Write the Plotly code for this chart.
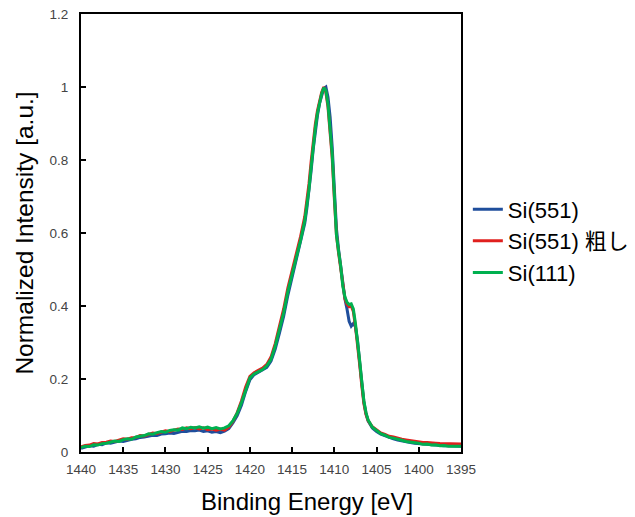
import plotly.graph_objects as go

# Binding energy grid (eV)
energy = [
    1440.0, 1439.5, 1439.0, 1438.5, 1438.0, 1437.5, 1437.0, 1436.5, 1436.0, 1435.5,
    1435.0, 1434.5, 1434.0, 1433.5, 1433.0, 1432.5, 1432.0, 1431.5, 1431.0, 1430.5,
    1430.0, 1429.5, 1429.0, 1428.5, 1428.0, 1427.5, 1427.0, 1426.5, 1426.0, 1425.5,
    1425.0, 1424.5, 1424.0, 1423.5, 1423.0, 1422.5, 1422.0, 1421.5, 1421.0, 1420.5,
    1420.0, 1419.5, 1419.0, 1418.5, 1418.0, 1417.5, 1417.0, 1416.5, 1416.0, 1415.5,
    1415.0, 1414.5, 1414.0, 1413.5,
    1413.25, 1413.0, 1412.75, 1412.5, 1412.25, 1412.0, 1411.75, 1411.5, 1411.25, 1411.0,
    1410.75, 1410.5, 1410.25, 1410.0, 1409.75, 1409.5, 1409.25, 1409.0, 1408.75, 1408.5,
    1408.25, 1408.0, 1407.75, 1407.5, 1407.25, 1407.0, 1406.75, 1406.5, 1406.25,
    1406.0, 1405.5, 1405.0, 1404.5, 1404.0, 1403.5, 1403.0, 1402.5, 1402.0, 1401.5,
    1401.0, 1400.5, 1400.0, 1399.5, 1399.0, 1398.5, 1398.0, 1397.5, 1397.0, 1396.5,
    1396.0, 1395.5, 1395.0,
]

si551 = [
    0.010, 0.014, 0.017, 0.016, 0.021, 0.020, 0.025, 0.024, 0.028, 0.030,
    0.029, 0.033, 0.035, 0.036, 0.040, 0.041, 0.044, 0.046, 0.045, 0.049,
    0.050, 0.052, 0.051, 0.055, 0.057, 0.056, 0.059, 0.058, 0.060, 0.056,
    0.058, 0.054, 0.056, 0.053, 0.057, 0.064, 0.080, 0.100, 0.128, 0.166,
    0.198, 0.212, 0.219, 0.224, 0.232, 0.249, 0.282, 0.326, 0.372, 0.430,
    0.480, 0.521, 0.572, 0.627,
    0.668, 0.712, 0.770, 0.830, 0.880, 0.922, 0.955, 0.980, 0.996, 1.000,
    0.972, 0.918, 0.835, 0.722, 0.612, 0.555, 0.510, 0.452, 0.420, 0.392,
    0.358, 0.345, 0.352, 0.343, 0.305, 0.246, 0.188, 0.137, 0.105,
    0.085, 0.066, 0.056, 0.049, 0.044, 0.039, 0.036, 0.033, 0.030, 0.028,
    0.026, 0.024, 0.023, 0.021, 0.020, 0.019, 0.018, 0.018, 0.017, 0.017,
    0.016, 0.016, 0.016,
]

si551_rough = [
    0.014, 0.018, 0.019, 0.023, 0.022, 0.026, 0.027, 0.030, 0.029, 0.033,
    0.036, 0.035, 0.039, 0.040, 0.045, 0.044, 0.048, 0.052, 0.051, 0.054,
    0.058, 0.056, 0.060, 0.063, 0.062, 0.066, 0.064, 0.067, 0.063, 0.066,
    0.061, 0.063, 0.060, 0.062, 0.060, 0.068, 0.084, 0.108, 0.140, 0.178,
    0.207, 0.217, 0.224, 0.230, 0.240, 0.260, 0.297, 0.342, 0.392, 0.450,
    0.497, 0.537, 0.590, 0.645,
    0.688, 0.735, 0.795, 0.850, 0.898, 0.935, 0.962, 0.985, 1.000, 0.985,
    0.945, 0.880, 0.805, 0.695, 0.595, 0.546, 0.505, 0.452, 0.420, 0.405,
    0.398, 0.400, 0.385, 0.345, 0.298, 0.240, 0.182, 0.133, 0.103,
    0.086, 0.069, 0.060, 0.052, 0.048, 0.043, 0.041, 0.037, 0.035, 0.033,
    0.031, 0.029, 0.028, 0.026, 0.026, 0.024, 0.024, 0.023, 0.023, 0.022,
    0.022, 0.022, 0.022,
]

si111 = [
    0.012, 0.016, 0.015, 0.020, 0.019, 0.023, 0.024, 0.027, 0.030, 0.029,
    0.034, 0.036, 0.035, 0.041, 0.043, 0.045, 0.050, 0.049, 0.053, 0.056,
    0.054, 0.059, 0.061, 0.060, 0.066, 0.064, 0.068, 0.066, 0.069, 0.065,
    0.068, 0.064, 0.067, 0.063, 0.066, 0.072, 0.086, 0.106, 0.135, 0.172,
    0.203, 0.214, 0.221, 0.226, 0.236, 0.254, 0.290, 0.334, 0.382, 0.440,
    0.488, 0.528, 0.580, 0.634,
    0.675, 0.720, 0.780, 0.838, 0.888, 0.928, 0.958, 0.982, 0.998, 0.990,
    0.952, 0.890, 0.815, 0.705, 0.595, 0.550, 0.510, 0.455, 0.425, 0.410,
    0.404, 0.406, 0.392, 0.352, 0.308, 0.250, 0.192, 0.140, 0.108,
    0.088, 0.068, 0.058, 0.050, 0.046, 0.040, 0.038, 0.034, 0.032, 0.029,
    0.028, 0.025, 0.024, 0.021, 0.022, 0.019, 0.020, 0.017, 0.018, 0.016,
    0.017, 0.016, 0.016,
]

series_names = ["Si(551)", "Si(551) 粗し", "Si(111)"]
series_colors = ["#1F4E9C", "#E0201E", "#00B04F"]
x_title = "Binding Energy [eV]"
y_title = "Normalized Intensity [a.u.]"

assert len(energy) == len(si551) == len(si551_rough) == len(si111)

FONT = "Liberation Sans, Arial, Noto Sans CJK JP, sans-serif"

fig = go.Figure()
for name, vals, col in zip(series_names, [si551, si551_rough, si111], series_colors):
    fig.add_trace(go.Scatter(x=energy, y=vals, mode="lines", name=name,
                             line=dict(color=col, width=3)))

# page body adds an 8px offset, so the figure is sized to fit the 635x517 window
fig.update_layout(
    width=627, height=509,
    margin=dict(l=73, r=174, t=6, b=65, autoexpand=False),
    paper_bgcolor="white", plot_bgcolor="white",
    font=dict(family=FONT, color="#000000"),
    showlegend=True,
    legend=dict(x=1.018, y=0.482, xanchor="left", yanchor="middle",
                font=dict(size=22, color="#000000", family=FONT),
                bgcolor="rgba(0,0,0,0)", borderwidth=0,
                tracegroupgap=0, itemwidth=30),
    annotations=[dict(text=x_title, xref="paper", yref="paper",
                      x=0.595, y=-0.113, xanchor="center", yanchor="middle",
                      showarrow=False,
                      font=dict(size=24, color="#000000", family=FONT))],
)

fig.update_xaxes(
    range=[1440, 1395], tick0=1395, dtick=5, automargin=False,
    showgrid=False, zeroline=False,
    showline=True, linecolor="#000000", linewidth=2, mirror=True,
    ticks="inside", ticklen=5, tickwidth=1.5, tickcolor="#000000",
    ticklabelstandoff=4, ticklabeloverflow="allow",
    tickfont=dict(size=13.5, color="#444444", family=FONT),
)
fig.update_yaxes(
    range=[0, 1.2], tick0=0, dtick=0.2, automargin=False,
    showgrid=False, zeroline=False,
    showline=True, linecolor="#000000", linewidth=2, mirror=True,
    ticks="inside", ticklen=5, tickwidth=1.5, tickcolor="#000000",
    ticklabelstandoff=8, ticklabeloverflow="allow",
    tickfont=dict(size=13.5, color="#444444", family=FONT),
    title=dict(text=y_title, font=dict(size=24.5, color="#000000", family=FONT),
               standoff=9),
)

fig.write_html("out.html")
